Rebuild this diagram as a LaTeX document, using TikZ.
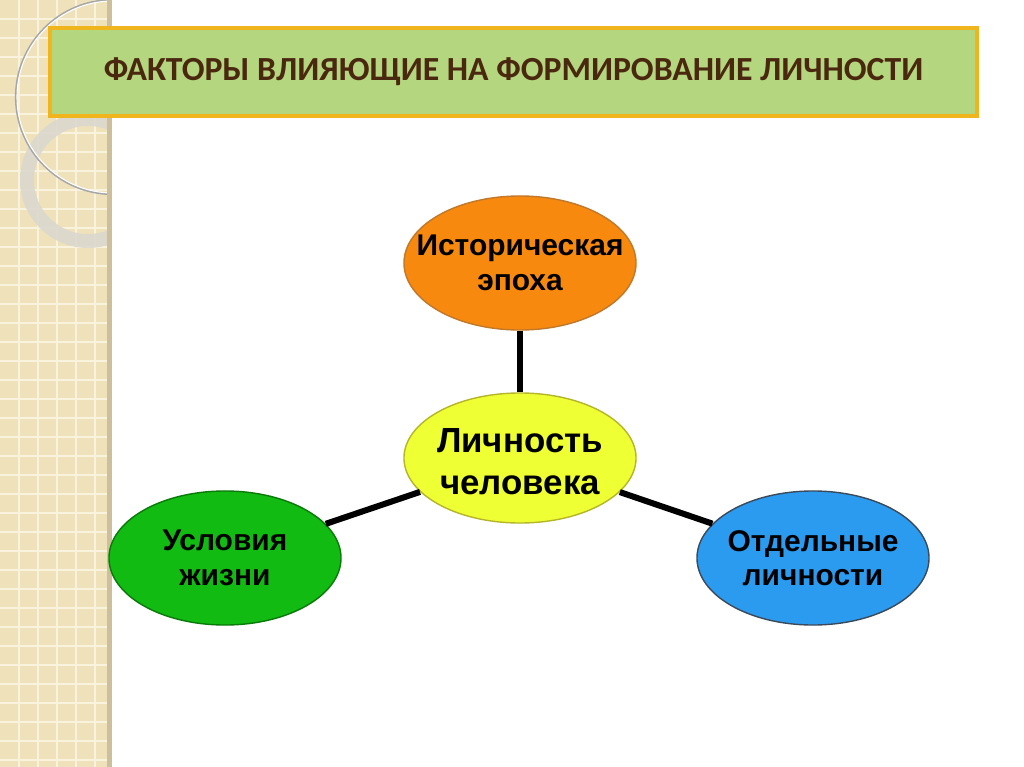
\documentclass[tikz,border=0pt]{standalone}
\usepackage{fontspec}
\setmainfont{Liberation Sans}
\newfontfamily\titlefont{Carlito}
\usetikzlibrary{shapes.geometric}

\definecolor{stripbeige}{HTML}{EFE2BA}
\definecolor{stripgrid}{HTML}{F9F2DC}
\definecolor{stripedge}{HTML}{CDBE9C}
\definecolor{ringgray}{HTML}{DCD8CE}
\definecolor{titlegreen}{HTML}{B4D67E}
\definecolor{titleborder}{HTML}{F0B41C}
\definecolor{titletext}{HTML}{4A2810}
\definecolor{epohafill}{HTML}{F7890F}
\definecolor{epohadraw}{HTML}{C0782A}
\definecolor{lichfill}{HTML}{EEFF33}
\definecolor{lichdraw}{HTML}{B5B52A}
\definecolor{uslfill}{HTML}{11BB11}
\definecolor{usldraw}{HTML}{0A7A0A}
\definecolor{otdfill}{HTML}{2B9BF0}
\definecolor{otddraw}{HTML}{3A4A5A}

\begin{document}
\begin{tikzpicture}[x=0.025cm,y=-0.025cm,
  factor/.style={ellipse,line width=1pt,minimum width=5.8cm,minimum height=3.35cm,inner sep=0pt},
  factortext/.style={align=center,font=\bfseries\fontsize{21.3}{24.5}\selectfont},
  link/.style={line width=4.3pt,black}]
\pgfmathsetmacro\stripw{110}
\useasboundingbox (0,0) rectangle (1024,767);

% left strip
\fill[stripbeige] (0,0) rectangle (\stripw,767);
\foreach \k in {1,...,40} {
  \draw[stripgrid,line width=1.2pt] (0,\k*19) -- (\stripw,\k*19);
}
\foreach \k in {1,...,5} {
  \draw[stripgrid,line width=1.2pt] (\k*19,0) -- (\k*19,767);
}
\begin{scope}
\clip (0,0) rectangle (\stripw,767);
\draw[ringgray,opacity=0.9,line width=3.5mm] (88,180) circle (61);
\draw[gray!70,line width=1.6pt] (113,97) circle (97);
\draw[white,line width=0.8pt] (113,97) circle (96);
\end{scope}
\fill[stripedge] (\stripw-3,0) rectangle (\stripw+2,767);

% title
\node (title) [draw=titleborder,line width=0.1cm,fill=titlegreen,
  minimum width=23.15cm,minimum height=2.2cm,text=titletext,
  font=\titlefont\bfseries\fontsize{24}{28}\selectfont] at (513.5,72)
  {ФАКТОРЫ ВЛИЯЮЩИЕ НА ФОРМИРОВАНИЕ ЛИЧНОСТИ};

% factors
\node (epoha) [factor,draw=epohadraw,fill=epohafill,
  label={[factortext]center:Историческая\\эпоха}] at (520,263) {};
\node (lichnost) [factor,draw=lichdraw,fill=lichfill,minimum height=3.25cm,
  label={[factortext,font=\bfseries\fontsize{24.8}{29.8}\selectfont,yshift=-0.1cm]center:Личность\\человека}] at (520,458) {};
\node (usloviya) [factor,draw=usldraw,fill=uslfill,
  label={[factortext]center:Условия\\жизни}] at (225,558) {};
\node (otdelnye) [factor,draw=otddraw,fill=otdfill,
  label={[factortext]center:Отдельные\\личности}] at (813,558) {};

\draw[link] (epoha) -- (lichnost);
\draw[link] (lichnost) -- (usloviya);
\draw[link] (lichnost) -- (otdelnye);
\end{tikzpicture}
\end{document}
